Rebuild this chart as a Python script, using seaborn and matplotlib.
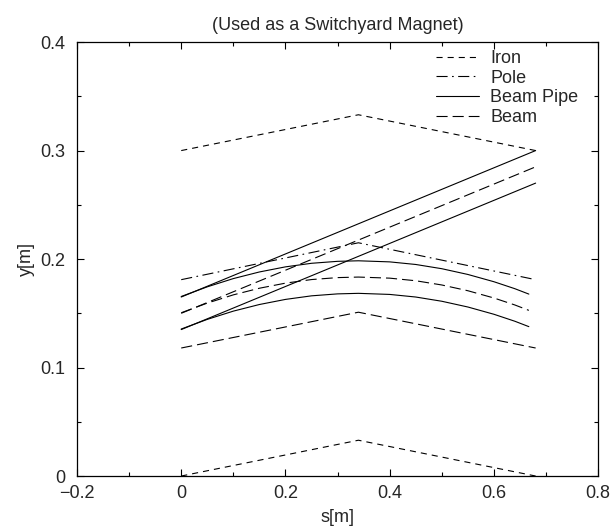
import numpy as np
import pandas as pd
import seaborn as sns
import matplotlib
matplotlib.use('Agg')
import matplotlib.pyplot as plt
from matplotlib.ticker import MultipleLocator, FuncFormatter

# kinked outlines (s at entrance, centre, exit)
s_kink = [0.0, 0.34, 0.68]
iron_top = [0.300, 0.333, 0.300]
iron_bottom = [0.000, 0.033, 0.000]
pole_top = [0.181, 0.215, 0.181]
beam_low = [0.118, 0.151, 0.118]

# straight lines (undeflected)
s_straight = [0.0, 0.68]
pipe_straight_up = [0.165, 0.300]
pipe_straight_low = [0.135, 0.270]
beam_straight = [0.150, 0.285]

# deflected orbit
s_curve = [0.0, 0.05, 0.10, 0.15, 0.20, 0.25, 0.30, 0.34, 0.40, 0.45, 0.50, 0.55, 0.60, 0.64, 0.667]
pipe_curve_up = [0.1655, 0.1744, 0.1820, 0.1881, 0.1928, 0.1961, 0.1979, 0.1984,
                 0.1974, 0.1950, 0.1911, 0.1858, 0.1791, 0.1727, 0.1677]
beam_curve = [0.1505, 0.1594, 0.1670, 0.1731, 0.1778, 0.1811, 0.1829, 0.1834,
              0.1824, 0.1800, 0.1761, 0.1708, 0.1641, 0.1577, 0.1527]
pipe_curve_low = [0.1355, 0.1444, 0.1520, 0.1581, 0.1628, 0.1661, 0.1679, 0.1684,
                  0.1674, 0.1650, 0.1611, 0.1558, 0.1491, 0.1427, 0.1377]

styles = {
    'Iron': (0, (5.5, 4.5)),
    'Pole': (0, (10, 4, 1.5, 4)),
    'Beam Pipe': '-',
    'Beam': (0, (10, 4.5)),
}

segments = [
    ('Iron', s_kink, iron_top),
    ('Iron', s_kink, iron_bottom),
    ('Pole', s_kink, pole_top),
    ('Beam Pipe', s_straight, pipe_straight_up),
    ('Beam Pipe', s_straight, pipe_straight_low),
    ('Beam Pipe', s_curve, pipe_curve_up),
    ('Beam Pipe', s_curve, pipe_curve_low),
    ('Beam', s_straight, beam_straight),
    ('Beam', s_curve, beam_curve),
    ('Beam', s_kink, beam_low),
]

sns.set_style('ticks')
plt.rcParams['font.family'] = ['Liberation Sans', 'DejaVu Sans']

fig = plt.figure(figsize=(6.11, 5.26), dpi=100)
ax = fig.add_axes([0.126, 0.095, 0.853, 0.825])

seen = set()
for name, s, y in segments:
    df = pd.DataFrame({'s': s, 'y': y})
    label = name if name not in seen else None
    seen.add(name)
    sns.lineplot(data=df, x='s', y='y', ax=ax, color='black', linewidth=0.8,
                 sort=False, estimator=None, label=label)
    ax.lines[-1].set_linestyle(styles[name])

ax.set_xlim(-0.2, 0.8)
ax.set_ylim(0, 0.4)
ax.xaxis.set_major_locator(MultipleLocator(0.2))
ax.xaxis.set_minor_locator(MultipleLocator(0.1))
ax.yaxis.set_major_locator(MultipleLocator(0.1))
ax.yaxis.set_minor_locator(MultipleLocator(0.05))

def fmt(v, pos):
    if abs(v) < 1e-9:
        return '0'
    return ('%.1f' % v).replace('-', '\u2212')

ax.xaxis.set_major_formatter(FuncFormatter(fmt))
ax.yaxis.set_major_formatter(FuncFormatter(fmt))
ax.tick_params(which='both', direction='in', top=True, right=True, color='black',
               labelsize=13, width=0.8)
ax.tick_params(which='major', length=5)
ax.tick_params(which='minor', length=3)
ax.tick_params(axis='y', pad=8.5)
ax.tick_params(axis='x', pad=6.5)
for sp in ax.spines.values():
    sp.set_linewidth(0.9)
    sp.set_color('black')

ax.set_xlabel('s[m]', fontsize=13, labelpad=5)
ax.set_ylabel('y[m]', fontsize=13, labelpad=3.5)
ax.set_title('(Used as a Switchyard Magnet)', fontsize=13, pad=8.5)

leg = ax.legend(loc='upper right', frameon=False, fontsize=13, handlelength=2.4,
                labelspacing=0.15, handletextpad=0.6, borderpad=0, borderaxespad=0,
                bbox_to_anchor=(0.962, 0.982))
for h, name in zip(leg.get_lines(), ['Iron', 'Pole', 'Beam Pipe', 'Beam']):
    h.set_linestyle(styles[name])
    h.set_linewidth(0.8)

fig.savefig('out.png', dpi=100)
